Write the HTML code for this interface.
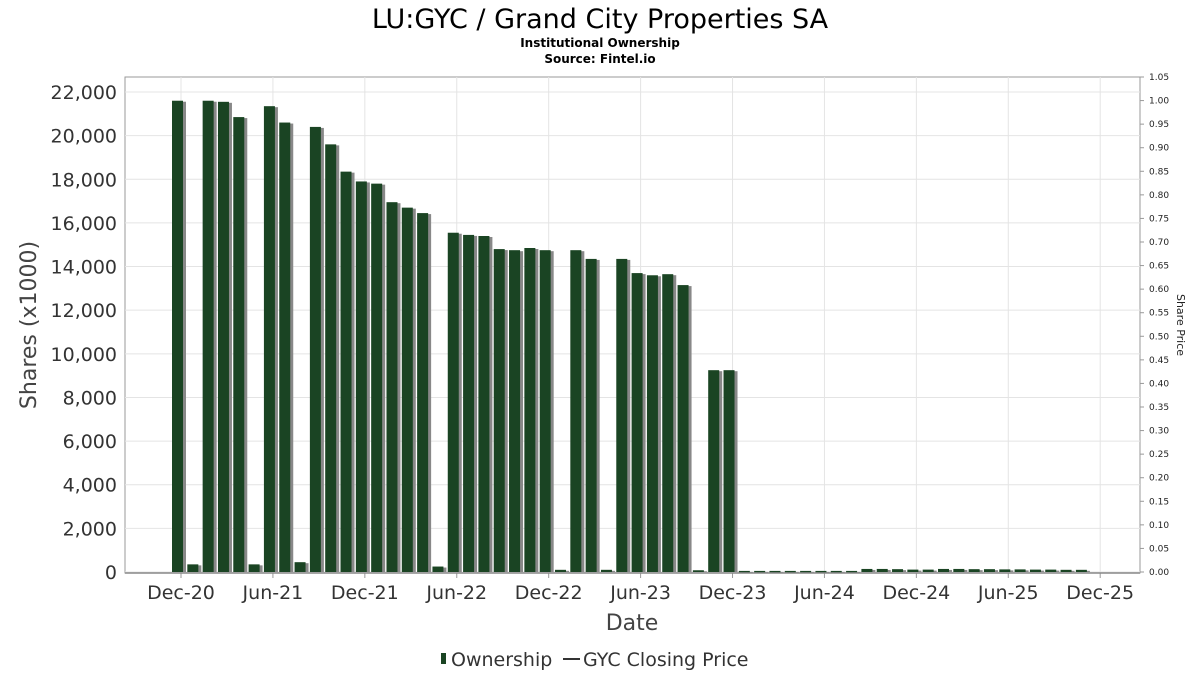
<!DOCTYPE html>
<html><head><meta charset="utf-8"><style>
body{margin:0;background:#fff;font-family:"DejaVu Sans","Liberation Sans",sans-serif;}
svg text{font-family:"DejaVu Sans","Liberation Sans",sans-serif;}
</style></head><body>
<svg id="chart" width="1200" height="675" xmlns="http://www.w3.org/2000/svg">
<text x="600" y="28" text-anchor="middle" font-size="27" fill="#000">LU:GYC / Grand City Properties SA</text>
<text x="600" y="47" text-anchor="middle" font-size="12" font-weight="bold">Institutional Ownership</text>
<text x="600" y="63" text-anchor="middle" font-size="12" font-weight="bold">Source: Fintel.io</text>
<g id="grid"></g><g id="bars"></g><g id="axes"></g>
<text transform="translate(36,325) rotate(-90)" text-anchor="middle" font-size="22" fill="#444">Shares (x1000)</text>
<text transform="translate(1177,325) rotate(90)" text-anchor="middle" font-size="11" fill="#222">Share Price</text>
<text x="632" y="630" text-anchor="middle" font-size="22" fill="#444">Date</text>
<g>
<rect x="441" y="653" width="5" height="11" fill="#1a4423"/>
<text x="451" y="666" font-size="19" fill="#333">Ownership</text>
<line x1="563" y1="659" x2="580" y2="659" stroke="#333" stroke-width="2"/>
<text x="583" y="666" font-size="19" fill="#333">GYC Closing Price</text>
</g>
</svg>
<script>
const shares = [21600,350,21600,21550,20850,350,21350,20600,450,20400,19600,18350,17900,17800,16950,16700,16450,250,15550,15450,15400,14800,14750,14850,14750,100,14750,14350,100,14350,13700,13600,13650,13150,80,9250,9250,50,50,50,50,50,50,50,50,140,140,130,110,110,140,140,130,130,120,120,110,110,100,100];
const yTicks = [0,2000,4000,6000,8000,10000,12000,14000,16000,18000,20000,22000];
const priceTicks = [0,0.05,0.1,0.15,0.2,0.25,0.3,0.35,0.4,0.45,0.5,0.55,0.6,0.65,0.7,0.75,0.8,0.85,0.9,0.95,1.0,1.05];
const xLabels = ['Dec-20','Jun-21','Dec-21','Jun-22','Dec-22','Jun-23','Dec-23','Jun-24','Dec-24','Jun-25','Dec-25'];
const NS='http://www.w3.org/2000/svg';
const L=125,R=1140,T=77,B=573;
const y0=572, pxPer=480/22000;
function y(v){return y0-v*pxPer;}
function yp(p){return y0-p*(y0-T)/1.05;}
function x(i){return 177+i*15.32;}
function mk(t,a,p){const e=document.createElementNS(NS,t);for(const k in a)e.setAttribute(k,a[k]);p.appendChild(e);return e;}
const g=document.getElementById('grid'),bg=document.getElementById('bars'),ax=document.getElementById('axes');
mk('rect',{x:L,y:T,width:R-L,height:B-T,fill:'none',stroke:'#999'},g);
yTicks.forEach(v=>{
  const l=mk('line',{x1:L,x2:R,y1:y(v),y2:y(v),stroke:'#e4e4e4'},g);
  
  
  const t=mk('text',{x:L-8,y:y(v)+7,'text-anchor':'end','font-size':19,fill:'#333'},ax);
  t.textContent=v.toLocaleString('en-US');
  
  
});
priceTicks.forEach(p=>{
  mk('line',{x1:R,x2:R+4,y1:yp(p),y2:yp(p),stroke:'#999'},ax);
  const t=mk('text',{x:R+9,y:yp(p)+3,'font-size':9,fill:'#222'},ax);
  t.textContent=p.toFixed(2);
  
  
});
xLabels.forEach((s,i)=>{
  const xx=x(i*6)+4;
  const l=mk('line',{x1:xx,x2:xx,y1:T,y2:B,stroke:'#e4e4e4'},g);
  
  
  mk('line',{x1:xx,x2:xx,y1:B,y2:B+5,stroke:'#999'},ax);
  const t=mk('text',{x:xx,y:599,'text-anchor':'middle','font-size':19,fill:'#333'},ax);
  t.textContent=s;
  
  
});
shares.forEach((v,i)=>{
  const xx=x(i)-5, h=Math.max(v*pxPer,1.5);
  const s=mk('rect',{x:xx+3,y:y(v)+1,width:11,height:h-1,fill:'#888'},bg);
  
  
  const b=mk('rect',{x:xx,y:y(v),width:11,height:h,fill:'#1a4423'},bg);
  
  
});
mk('line',{x1:L,x2:R,y1:B,y2:B,stroke:'#888','stroke-width':1.5},ax);
</script>
</body></html>
